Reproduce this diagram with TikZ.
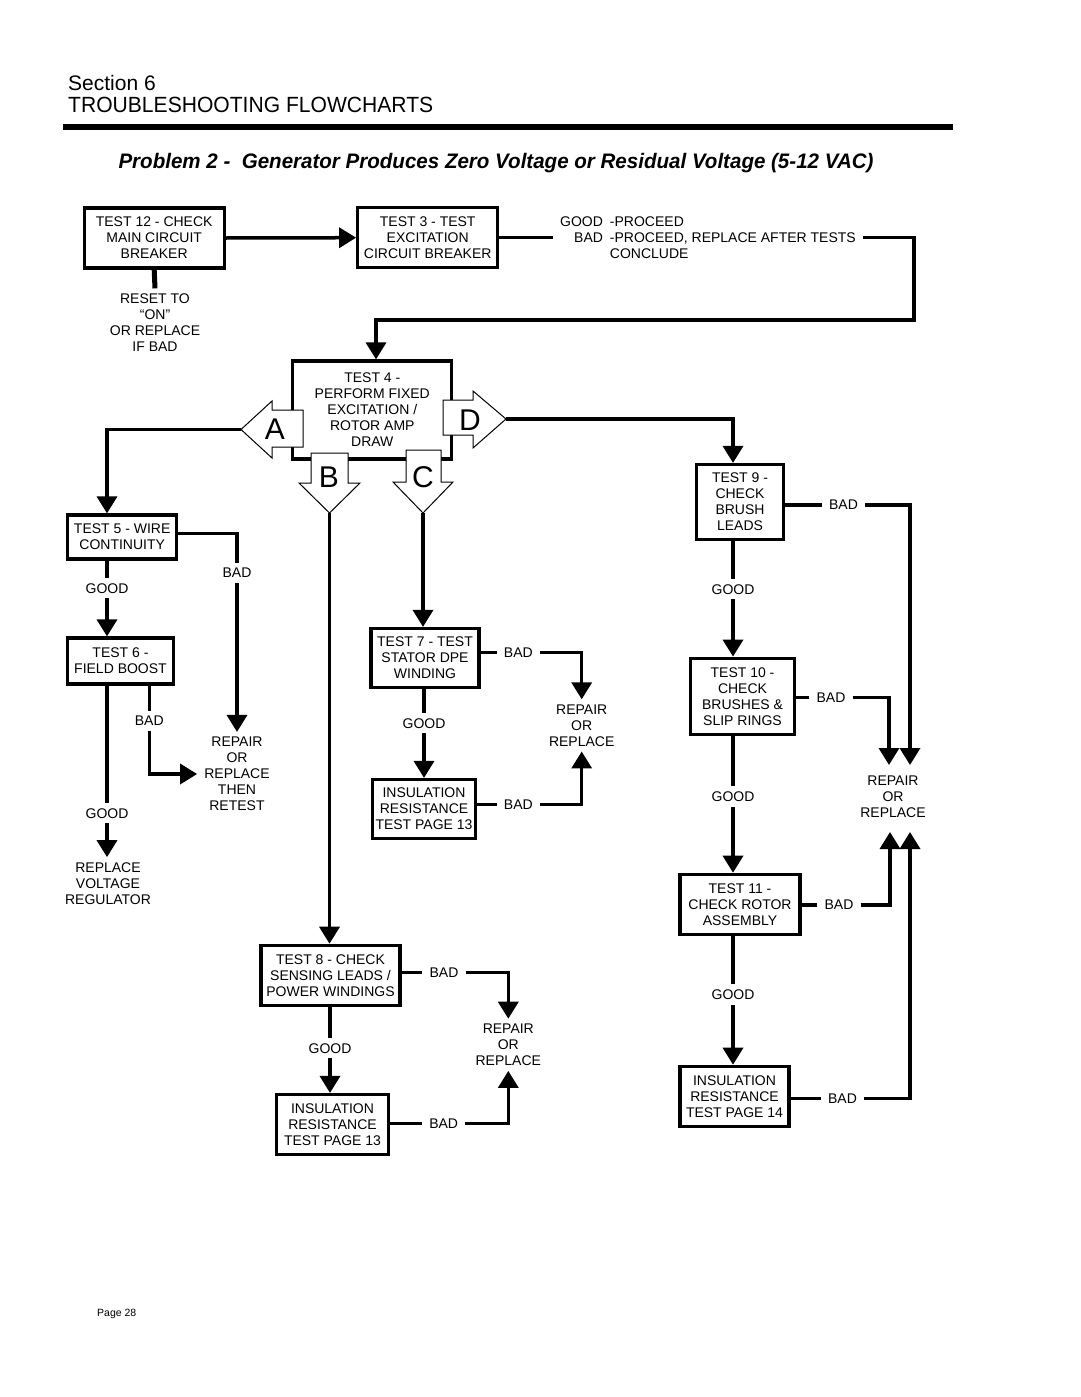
\documentclass[tikz,border=0pt]{standalone}
\usepackage{fontspec}
\setmainfont{Liberation Sans}
\usepackage{graphicx}
\usetikzlibrary{arrows.meta}
\newcommand\boxfnt{\fontsize{14}{16}\selectfont}
\newcommand\bigfnt{\fontsize{30}{30}\selectfont}
\begin{document}
\begin{tikzpicture}[x=1pt,y=-1pt,
  box/.style={draw, line width=3.2pt, inner sep=0pt, align=center, font=\boxfnt, fill=white},
  lbl/.style={inner xsep=7pt, inner ysep=5pt, align=center, font=\boxfnt},
  wire/.style={line width=3.5pt},
  arr/.style={line width=3.5pt, -{Triangle[length=17pt,width=20pt]}},
  hollow/.style={draw, line width=1pt, fill=white, line join=miter},
  letter/.style={inner sep=0pt, font=\bigfnt}]
\fill[white] (0,0) rectangle (1080,1397);
\useasboundingbox (0,0) rectangle (1080,1397);

% header
\node[anchor=base west, inner sep=0pt] (sec) at (68,90) {\fontsize{21}{21}\selectfont Section 6};
\node[anchor=base west, inner sep=0pt] (tsf) at (68,112.7) {\resizebox{365pt}{\height}{\fontsize{22}{22}\selectfont TROUBLESHOOTING FLOWCHARTS}};
\fill[black] (63,123.5) rectangle (953,130);
\node[anchor=base west, inner sep=0pt] (ttl) at (118.3,168.3) {\resizebox{755pt}{\height}{\fontsize{21}{21}\selectfont\bfseries\itshape Problem 2 -\ \ Generator Produces Zero Voltage or Residual Voltage (5-12 VAC)}};

% boxes
\node[box, minimum width=140pt, minimum height=60pt] (t12) at (154.2,238) {TEST 12 - CHECK\\MAIN CIRCUIT\\BREAKER};
\node[box, minimum width=140pt, minimum height=60pt] (t3) at (427.7,237.7) {TEST 3 - TEST\\EXCITATION\\CIRCUIT BREAKER};
\node[box, minimum width=159pt, minimum height=98pt] (t4) at (372.3,410) {TEST 4 -\\PERFORM FIXED\\EXCITATION /\\ROTOR AMP\\DRAW};
\node[box, minimum width=109pt, minimum height=44pt] (t5) at (122.2,537) {TEST 5 - WIRE\\CONTINUITY};
\node[box, minimum width=106pt, minimum height=46pt] (t6) at (120.5,661) {TEST 6 -\\FIELD BOOST};
\node[box, minimum width=108pt, minimum height=59pt] (t7) at (425,658) {TEST 7 - TEST\\STATOR DPE\\WINDING};
\node[box, minimum width=103pt, minimum height=59pt] (i7) at (424,809) {INSULATION\\RESISTANCE\\TEST PAGE 13};
\node[box, minimum width=139pt, minimum height=60pt] (t8) at (330.5,975.3) {TEST 8 - CHECK\\SENSING LEADS /\\POWER WINDINGS};
\node[box, minimum width=112pt, minimum height=60pt] (i8) at (332.5,1124.5) {INSULATION\\RESISTANCE\\TEST PAGE 13};
\node[box, minimum width=87pt, minimum height=75pt] (t9) at (740,502) {TEST 9 -\\CHECK\\BRUSH\\LEADS};
\node[box, minimum width=104pt, minimum height=76pt] (t10) at (742.5,696.2) {TEST 10 -\\CHECK\\BRUSHES \&\\SLIP RINGS};
\node[box, minimum width=120pt, minimum height=60pt] (t11) at (740,904.3) {TEST 11 -\\CHECK ROTOR\\ASSEMBLY};
\node[box, minimum width=109pt, minimum height=60pt] (i11) at (734.5,1096.3) {INSULATION\\RESISTANCE\\TEST PAGE 14};

% hollow arrows on test 4
\draw[hollow] (303,410) -- (272,410) -- (272,401) -- (241,429.5) -- (272,458) -- (272,447) -- (303,447) -- cycle;
\draw[hollow] (443,400) -- (473,400) -- (473,391) -- (506,419) -- (473,448) -- (473,435) -- (443,435) -- cycle;
\draw[hollow] (311,453) -- (348,453) -- (348,483) -- (360,483) -- (329.5,513) -- (299,483) -- (311,483) -- cycle;
\draw[hollow] (406,450) -- (441,450) -- (441,482) -- (453,482) -- (423,513) -- (393,482) -- (406,482) -- cycle;
\node[letter] (lA) at (275,429) {A};
\node[letter] (lB) at (329,476.7) {B};
\node[letter] (lC) at (423,477.5) {C};
\node[letter] (lD) at (470,420) {D};
\coordinate (Atip) at (241,429.5);
\coordinate (Btip) at (329.5,513);
\coordinate (Ctip) at (423,513);
\coordinate (Dtip) at (506,419);

% labels
\node[lbl, anchor=west] (gb) at (553,239) {\begin{tabular}{@{}r@{\hspace{7pt}}l@{}}GOOD & -PROCEED\\BAD & -PROCEED, REPLACE AFTER TESTS\\ & CONCLUDE\end{tabular}};
\node[lbl] (rst) at (155,322.5) {RESET TO\\“ON”\\OR REPLACE\\IF BAD};
\node[lbl] (b5) at (237,572.7) {BAD};
\node[lbl] (g5) at (107,588.3) {GOOD};
\node[lbl] (rp5) at (237,774) {REPAIR\\OR\\REPLACE\\THEN\\RETEST};
\node[lbl] (b6) at (149.3,720.7) {BAD};
\node[lbl] (g6) at (107,813.3) {GOOD};
\node[lbl] (rv) at (108,883.3) {REPLACE\\VOLTAGE\\REGULATOR};
\node[lbl] (b7) at (518.3,652.7) {BAD};
\node[lbl] (g7) at (424,723.3) {GOOD};
\node[lbl] (rp7) at (581.7,725.4) {REPAIR\\OR\\REPLACE};
\node[lbl] (ib7) at (518.3,804.3) {BAD};
\node[lbl] (b8) at (444,972.7) {BAD};
\node[lbl] (g8) at (330,1048.3) {GOOD};
\node[lbl] (rp8) at (508.3,1044.8) {REPAIR\\OR\\REPLACE};
\node[lbl] (ib8) at (443.7,1123.3) {BAD};
\node[lbl] (b9) at (843.5,505) {BAD};
\node[lbl] (g9) at (733,589.3) {GOOD};
\node[lbl] (b10) at (831,697.3) {BAD};
\node[lbl] (g10) at (733,796.5) {GOOD};
\node[lbl] (rp9) at (893,797) {REPAIR\\OR\\REPLACE};
\node[lbl] (b11) at (839,905) {BAD};
\node[lbl] (g11) at (733,994.5) {GOOD};
\node[lbl] (ib11) at (842.5,1098.3) {BAD};
\coordinate (k1) at (914,320);
\coordinate (k2) at (376,320);
\coordinate (e1) at (889,765);
\coordinate (e2) at (910,765);
\coordinate (u1) at (890,832);
\coordinate (u2) at (910,832);

\node[anchor=west, inner sep=0pt, font=\fontsize{10.5}{12}\selectfont] (pg) at (97,1314) {Page 28};

% connectors top
\draw[arr] (t12.east) -- (t3.west);
\draw[line width=5pt] (t12.south) -- (rst.north);
\draw[wire] (t3.east) -- (gb.west |- t3.east);
\draw[arr] (gb.east |- t3.east) -| (k1) -- (k2) -- (k2 |- t4.north);

% A branch
\draw[arr] (Atip) -| (g5 |- t5.north);
\draw[wire] ([yshift=3.5pt]t5.east) -| (b5.north);
\draw[arr] (b5.south) -- (rp5.north);
\draw[wire] (t5.south -| g5) -- (g5.north);
\draw[arr] (g5.south) -- (t6.north -| g5);
\draw[wire] (t6.south -| b6) -- (b6.north);
\draw[arr] (b6.south) |- (rp5.west);
\draw[wire] (t6.south -| g6) -- (g6.north);
\draw[arr] (g6.south) -- (g6.south |- rv.north);

% C branch
\draw[arr] (Ctip) -- (Ctip |- t7.north);
\draw[wire] (t7.east |- b7) -- (b7.west);
\draw[arr] (b7.east) -| (rp7.north);
\draw[wire] (t7.south -| g7) -- (g7.north);
\draw[arr] (g7.south) -- (g7.south |- i7.north);
\draw[wire] (i7.east |- ib7) -- (ib7.west);
\draw[arr] (ib7.east) -| (rp7.south);

% B branch
\draw[arr] (Btip) -- (Btip |- t8.north);
\draw[wire] (t8.east |- b8) -- (b8.west);
\draw[arr] (b8.east) -| (rp8.north);
\draw[wire] (t8.south -| g8) -- (g8.north);
\draw[arr] (g8.south) -- (g8.south |- i8.north);
\draw[wire] (i8.east |- ib8) -- (ib8.west);
\draw[arr] (ib8.east) -| (rp8.south);

% D branch
\draw[arr] (Dtip) -| (g9 |- t9.north);
\draw[wire] (t9.east |- b9) -- (b9.west);
\draw[arr] (b9.east) -| (e2);
\draw[wire] (t9.south -| g9) -- (g9.north);
\draw[arr] (g9.south) -- (g9.south |- t10.north);
\draw[wire] (t10.east |- b10) -- (b10.west);
\draw[arr] (b10.east) -| (e1);
\draw[wire] (t10.south -| g10) -- (g10.north);
\draw[arr] (g10.south) -- (g10.south |- t11.north);
\draw[wire] (t11.east |- b11) -- (b11.west);
\draw[arr] (b11.east) -| (u1);
\draw[wire] (t11.south -| g11) -- (g11.north);
\draw[arr] (g11.south) -- (g11.south |- i11.north);
\draw[wire] (i11.east |- ib11) -- (ib11.west);
\draw[arr] (ib11.east) -| (u2);
\end{tikzpicture}
\end{document}
